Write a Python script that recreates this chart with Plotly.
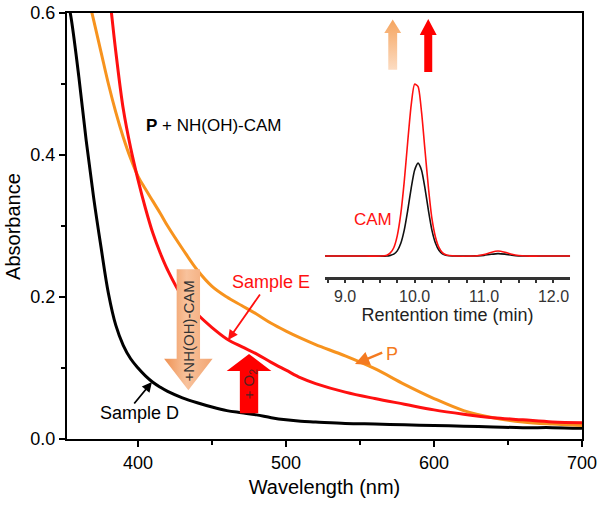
import plotly.graph_objects as go

# ---------------- data ----------------
wavelength = [352, 355, 360, 365, 370, 375, 380, 385, 390, 395, 400, 405, 410, 415, 420,
              430, 440, 450, 460, 470, 480, 490, 500, 510, 520, 540, 560, 580, 600,
              620, 640, 660, 680, 700]
sample_d = [0.625, 0.59, 0.51, 0.42, 0.34, 0.27, 0.205, 0.16, 0.132, 0.113, 0.100, 0.089, 0.080, 0.073, 0.067,
            0.058, 0.051, 0.045, 0.040, 0.037, 0.034, 0.030, 0.027, 0.025, 0.024, 0.022, 0.021, 0.020, 0.019,
            0.018, 0.017, 0.016, 0.016, 0.015]
sample_p = [0.80, 0.75, 0.69, 0.635, 0.59, 0.545, 0.50, 0.46, 0.425, 0.395, 0.37, 0.352, 0.335, 0.318, 0.30,
            0.268, 0.238, 0.215, 0.200, 0.188, 0.176, 0.163, 0.152, 0.142, 0.133, 0.117, 0.099, 0.077, 0.057,
            0.040, 0.030, 0.024, 0.021, 0.019]
sample_e = [1.05, 1.0, 0.92, 0.84, 0.77, 0.70, 0.635, 0.545, 0.465, 0.41, 0.365, 0.325, 0.29, 0.262, 0.238,
            0.200, 0.176, 0.157, 0.141, 0.130, 0.120, 0.108, 0.097, 0.086, 0.078, 0.066, 0.057, 0.049, 0.041,
            0.035, 0.030, 0.027, 0.024, 0.023]

ret_time = [8.71, 9.0, 9.3, 9.5, 9.6, 9.65, 9.7, 9.75, 9.8, 9.85, 9.9, 9.95, 10.0, 10.05, 10.1, 10.15,
            10.2, 10.25, 10.3, 10.35, 10.4, 10.45, 10.5, 10.6, 10.8, 10.9, 11.0, 11.1, 11.2, 11.3, 11.4,
            11.5, 11.6, 11.8, 12.0, 12.24]
hplc_black = [0, 0, 0, 0, 0, 0.004, 0.011, 0.030, 0.072, 0.148, 0.26, 0.388, 0.493, 0.534, 0.493, 0.388,
              0.26, 0.148, 0.075, 0.033, 0.013, 0.005, 0.002, 0, 0, 0.001, 0.004, 0.010, 0.014, 0.011, 0.005,
              0.001, 0, 0, 0, 0]
hplc_red = [0, 0, 0, 0, 0.005, 0.018, 0.048, 0.116, 0.239, 0.425, 0.653, 0.865, 0.988, 0.974, 0.827, 0.607,
            0.39, 0.215, 0.11, 0.05, 0.02, 0.008, 0.003, 0, 0, 0.002, 0.009, 0.021, 0.029, 0.022, 0.010,
            0.003, 0, 0, 0, 0]

x_ticks = [400, 500, 600, 700]
y_ticks = [0.0, 0.2, 0.4, 0.6]
inset_ticks = [9.0, 10.0, 11.0, 12.0]

# ---------------- styling ----------------
FONT = "Arial, Liberation Sans, Helvetica, sans-serif"
BLACK = "#000000"
ORANGE = "#F7931E"
RED = "#FF1010"
P_ORANGE = "#F47A20"

fig = go.Figure()

for y, c in [(sample_d, BLACK), (sample_p, ORANGE), (sample_e, RED)]:
    fig.add_trace(go.Scatter(x=wavelength, y=y, mode="lines", line=dict(color=c, width=3, shape="spline"),
                             hoverinfo="skip", showlegend=False, xaxis="x", yaxis="y"))

# inset chromatogram
fig.add_trace(go.Scatter(x=ret_time, y=hplc_black, mode="lines",
                         line=dict(color="#111111", width=1.6, shape="spline", smoothing=0.6),
                         hoverinfo="skip", showlegend=False, xaxis="x2", yaxis="y2"))
fig.add_trace(go.Scatter(x=ret_time, y=hplc_red, mode="lines",
                         line=dict(color=RED, width=1.6, shape="spline", smoothing=0.6),
                         hoverinfo="skip", showlegend=False, xaxis="x2", yaxis="y2"))


def block_arrow(cx, y_tail, y_tip, shaft_half, head_half, head_base):
    xs = [cx - shaft_half, cx - shaft_half, cx - head_half, cx, cx + head_half,
          cx + shaft_half, cx + shaft_half, cx - shaft_half]
    ys = [y_tail, head_base, head_base, y_tip, head_base, head_base, y_tail, y_tail]
    return xs, ys


def add_arrow(geom, fill=None, gradient=None):
    xs, ys = block_arrow(*geom)
    kw = dict(x=xs, y=ys, mode="lines", line=dict(width=0, color="rgba(0,0,0,0)"), fill="toself",
              fillcolor=fill, hoverinfo="skip", showlegend=False, xaxis="x", yaxis="y")
    if gradient is not None:
        kw["fillgradient"] = gradient
    fig.add_trace(go.Scatter(**kw))


# big orange arrow (down)
add_arrow((434.0, 0.239, 0.0686, 7.9, 16.4, 0.113), fill="#F5B48A",
          gradient=dict(type="horizontal", start=418, stop=451,
                        colorscale=[[0, "#EF9355"], [0.45, "#F8C29C"], [1, "#F2A470"]]))
# red arrow (up)
add_arrow((475.0, 0.0362, 0.1197, 6.2, 15.1, 0.0958), fill="#FF0000")
# small inset arrows
add_arrow((572.1, 0.520, 0.591, 3.0, 5.7, 0.572), fill="#F7B27A",
          gradient=dict(type="vertical", start=0.520, stop=0.591,
                        colorscale=[[0, "#FCDCC2"], [1, "#F5A45E"]]))
add_arrow((596.1, 0.517, 0.5916, 2.7, 5.7, 0.569), fill="#FF0000")

ann = []


def text(x, y, s, color=BLACK, size=17, angle=0, xref="x", yref="y"):
    ann.append(dict(x=x, y=y, xref=xref, yref=yref, text=s, showarrow=False, textangle=angle,
                    font=dict(family=FONT, size=size, color=color)))


def arrow(x, y, ax, ay, color, size=1.0, width=1.6):
    ann.append(dict(x=x, y=y, ax=ax, ay=ay, xref="x", yref="y", axref="x", ayref="y", text="",
                    showarrow=True, arrowhead=2, arrowsize=size, arrowwidth=width, arrowcolor=color))


text(451.3, 0.442, "<b>P</b> + NH(OH)-CAM", size=17)
text(489.8, 0.221, "Sample E", color=RED, size=18)
arrow(460.8, 0.1394, 483.1, 0.2056, RED, size=1.1, width=1.8)
text(401.3, 0.0366, "Sample D", size=18)
arrow(409.4, 0.0803, 396.6, 0.0479, BLACK, size=1.1, width=1.8)
text(571.5, 0.1197, "P", color=P_ORANGE, size=18)
arrow(546.6, 0.1056, 566.0, 0.1225, P_ORANGE, size=1.1, width=2.6)
text(434.0, 0.152, "+NH(OH)-CAM", color="#333333", size=15, angle=-90)
text(475.0, 0.077, "+ O<sub>2</sub>", color="#552020", size=15, angle=-90)
text(558.8, 0.3085, "CAM", color=RED, size=17)

ann.append(dict(x=-0.105, y=0.5, xref="paper", yref="paper", xanchor="center", yanchor="middle",
                text="Absorbance", showarrow=False,
                textangle=-90, font=dict(family=FONT, size=20, color=BLACK)))

fig.update_layout(
    width=602, height=507,
    margin=dict(l=67, r=20, t=13, b=68, autoexpand=False),
    paper_bgcolor="white", plot_bgcolor="rgba(0,0,0,0)",
    font=dict(family=FONT, size=18, color=BLACK),
    annotations=ann,
    xaxis=dict(range=[352, 700], tickvals=x_ticks, ticks="outside", ticklen=6, tickwidth=2,
               tickcolor=BLACK, showline=True, linewidth=2, linecolor=BLACK, mirror=True,
               showgrid=False, zeroline=False, tickfont=dict(size=18), automargin=False,
               minor=dict(tickvals=[450, 550, 650], ticks="outside", ticklen=4, tickwidth=2, tickcolor=BLACK),
               title=dict(text="Wavelength (nm)", font=dict(size=20), standoff=8)),
    yaxis=dict(range=[0, 0.6], tickvals=y_ticks, tickformat=".1f", ticks="outside", ticklen=6, tickwidth=2,
               tickcolor=BLACK, showline=True, linewidth=2, linecolor=BLACK, mirror=True,
               showgrid=False, zeroline=False, tickfont=dict(size=18), automargin=False,
               minor=dict(tickvals=[0.1, 0.3, 0.5], ticks="outside", ticklen=4, tickwidth=2, tickcolor=BLACK)),
    xaxis2=dict(domain=[0.501, 0.977], anchor="y2", range=[8.71, 12.24], tickvals=inset_ticks,
                ticktext=["9.0", "10.0", "11.0", "12.0"], ticks="outside", ticklen=3, tickwidth=2,
                tickcolor="#333333", showline=True, linewidth=3, linecolor="#333333", showgrid=False,
                zeroline=False, tickfont=dict(size=16, color="#333333"), automargin=False,
                ticklabelstandoff=0,
                minor=dict(dtick=0.25, ticks="outside", ticklen=3, tickwidth=2, tickcolor="#333333"),
                title=dict(text="Rentention time (min)", font=dict(size=18, color="#222222"), standoff=2)),
    yaxis2=dict(domain=[0.380, 1.0], anchor="x2", range=[-0.121, 1.397], visible=False),
)

fig.write_html("out.html", config={"displayModeBar": False},
               post_script="document.body.style.margin='0';")
